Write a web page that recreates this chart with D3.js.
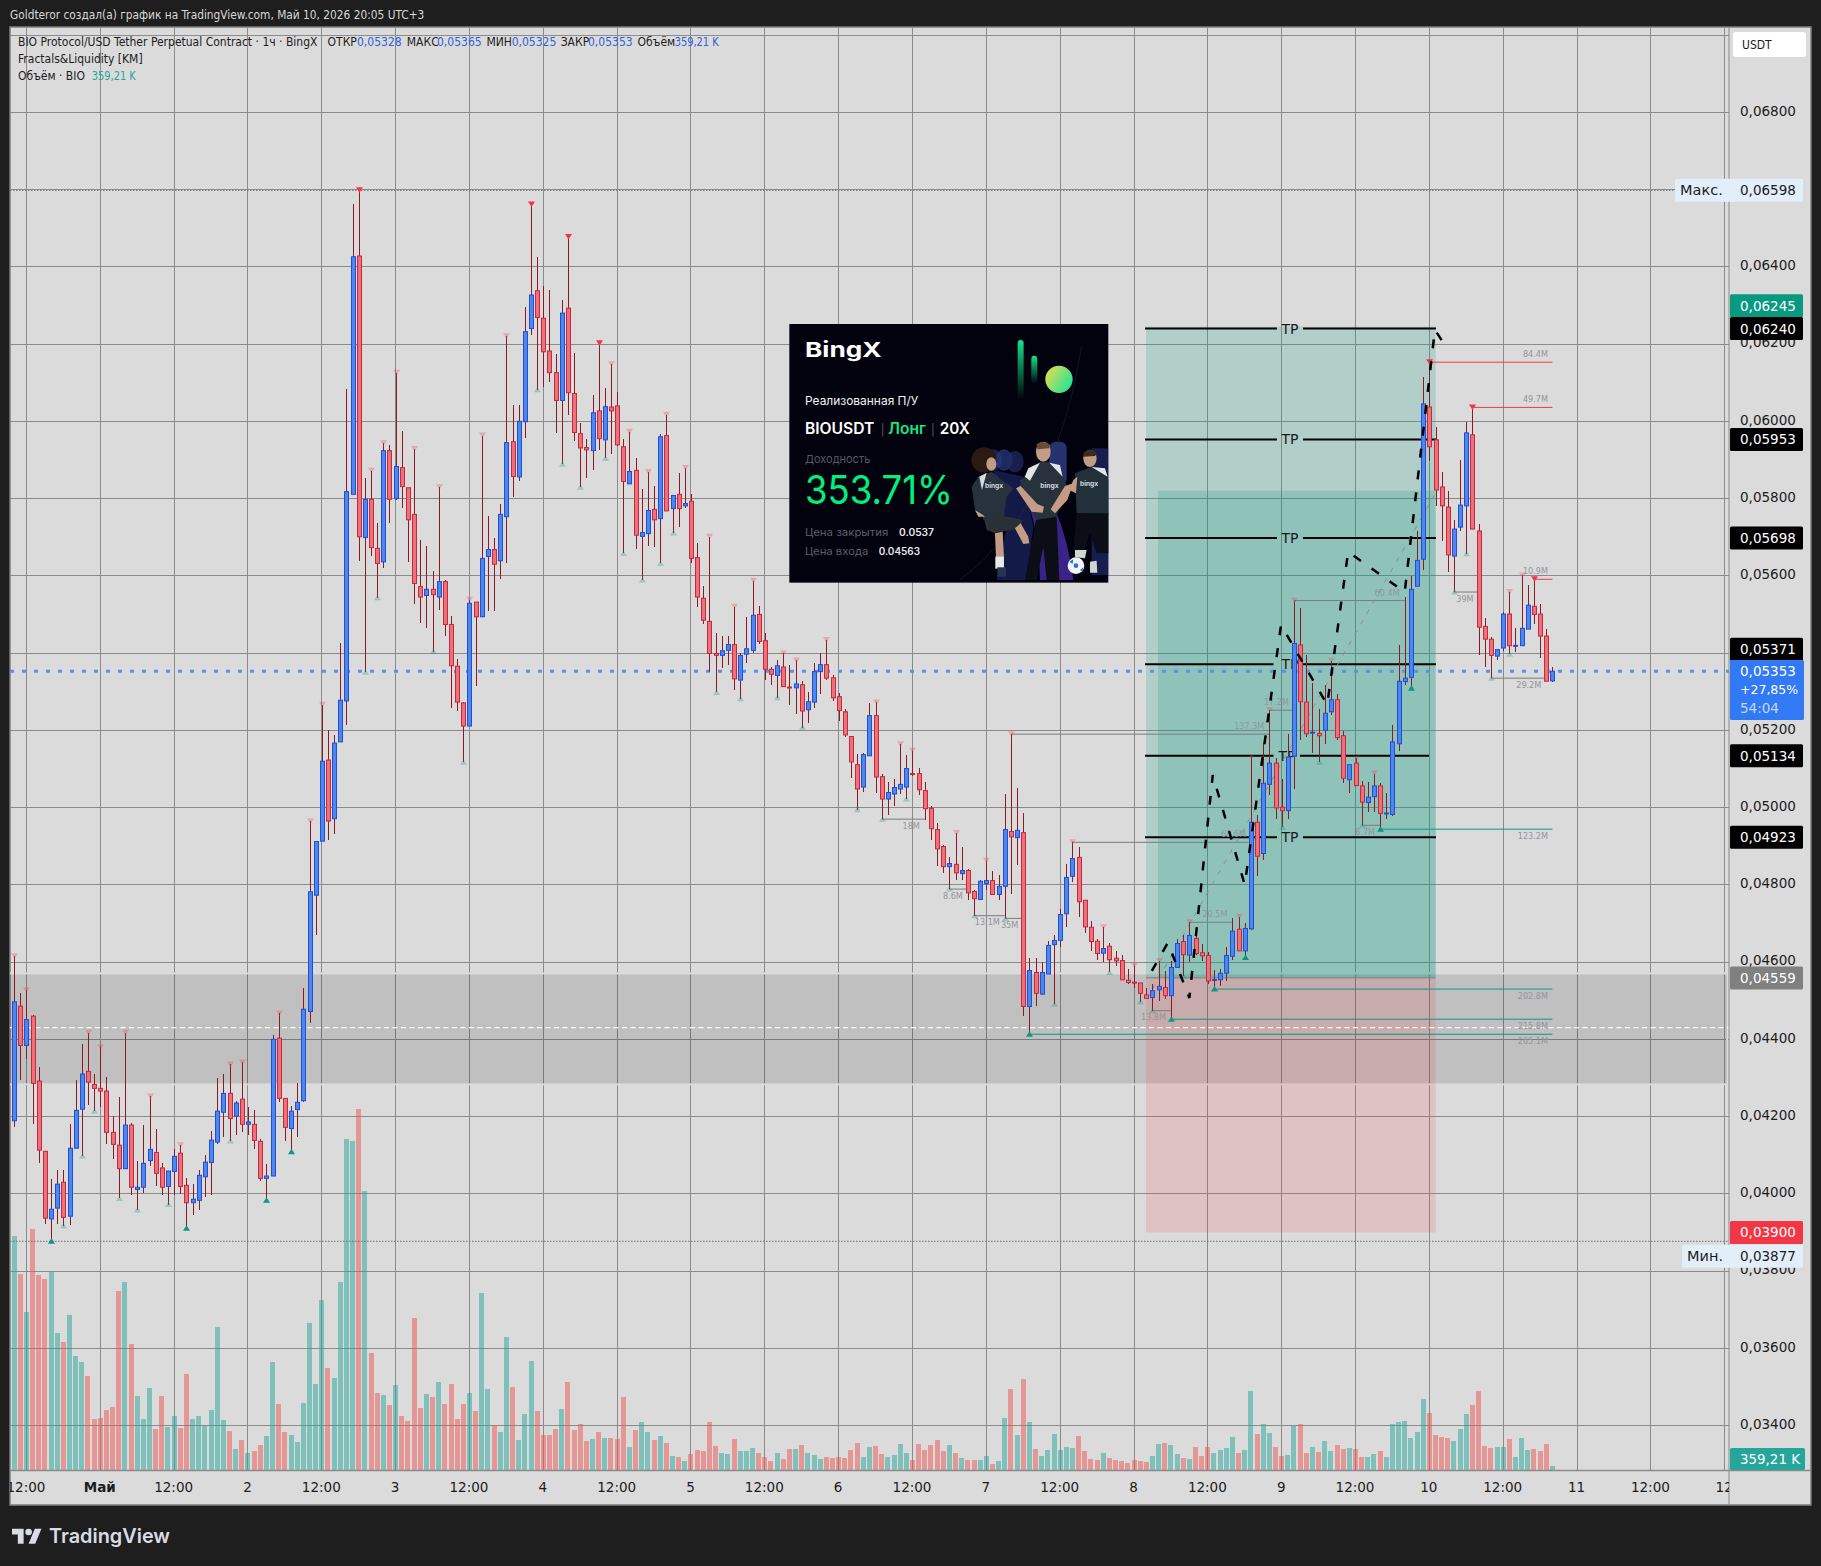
<!DOCTYPE html>
<html><head><meta charset="utf-8">
<script src="https://cdn.jsdelivr.net/npm/d3@7/dist/d3.min.js"></script>
<style>html,body{margin:0;padding:0;background:#1e1e1e}svg{display:block}</style></head>
<body><svg id="c" width="1821" height="1566"></svg>
<script>
// Prices are in units of 0.00001 USDT. Candle index 0 is 10:00 on 30 April; hourOffset counts hours from 1 May 00:00.
const PRICE_UNIT = 1e-5, FIRST_HOUR = -14;
const opens = [4189,4486,4384,4460,4292,4110,3935,3963,4030,3942,4118,4219,4317,4283,
4273,4266,4159,4126,4065,4178,4011,4017,4086,4107,4067,4019,4058,4105,4022,3977,3983,4044,4081,4134,4211,4260,4201,4245,4180,4180,4136,4040,4046,4403,4247,4169,4218,4241,4472,4773,4913,5123,4971,
5170,5276,5811,6428,5699,5798,5671,5636,5924,5800,5880,5828,5759,5572,5549,5565,5545,5585,5474,5366,5271,5211,5532,5494,5650,5668,5639,5753,5947,5856,5999,6240,6338,6267,6182,6126,6054,6293,6072,5968,5932,5924,6027,5952,6037,6040,5934,5838,5873,5702,5709,5772,5748,5963,5774,5811,5781,5793,5647,5542,5482,5399,5394,5407,5422,5330,5397,5407,5500,5432,5358,5342,5364,5312,5310,
5318,5253,5273,5352,5370,5336,5287,5248,5184,5111,5053,5134,5238,5080,5022,5035,5048,5053,5088,5088,5044,4998,4943,4899,4847,4853,4829,4837,4783,4762,4803,4811,4775,4796,4938,4922,4935,4485,4573,4517,4569,4645,4656,4725,4822,4871,4760,4690,4654,4623,4641,4610,4604,4553,4548,
4546,4515,4508,4528,4534,4513,4586,4653,4618,4661,4624,4617,4555,4554,4571,4615,4685,4629,4686,4962,4881,5060,5115,5001,4992,5133,5421,5273,5195,5192,5200,5248,5279,5186,5072,5115,5056,5013,5028,5056,4985,4982,5165,5326,5337,5573,5643,6037,5952,5830,5778,5651,5726,5781,5965,5716,5469,5436,5392,5413,5501,5420,5419,5462,5521,5501,5444,5328];
const highs = [4615,4521,4527,4462,4328,4112,4039,4061,4061,4181,4294,4388,4417,4310,
4379,4302,4201,4251,4417,4184,4085,4179,4252,4167,4080,4059,4115,4126,4040,4025,4061,4101,4163,4301,4311,4335,4239,4340,4225,4217,4142,4076,4412,4467,4247,4228,4288,4533,4964,4912,5266,5201,5188,
5426,6083,6563,6598,5853,5872,5736,5943,5938,6126,5976,5828,5928,5693,5676,5613,5829,5589,5495,5384,5273,5538,5532,5963,5754,5698,5785,6220,6041,6041,6296,6561,6426,6349,6339,6174,6314,6477,6178,5995,5953,6068,6202,6086,6148,6075,5955,5973,5904,5824,5869,5832,5968,6017,5808,5866,5879,5813,5686,5573,5701,5452,5444,5444,5520,5401,5493,5587,5521,5453,5365,5381,5399,5370,5381,
5328,5300,5373,5401,5434,5344,5297,5256,5184,5138,5141,5270,5272,5086,5065,5075,5164,5135,5147,5103,5065,5003,4960,4903,4871,4934,4897,4841,4787,4813,4862,4836,4825,5035,5190,5050,4987,4610,4610,4599,4655,4670,4737,4853,4910,4899,4760,4707,4660,4690,4649,4629,4618,4582,4590,
4546,4532,4543,4603,4577,4603,4660,4670,4703,4677,4647,4625,4579,4582,4640,4713,4717,4701,5131,4981,5165,5252,5127,5075,5191,5536,5517,5394,5322,5255,5316,5380,5294,5197,5111,5127,5068,5066,5088,5064,5038,5215,5421,5545,5599,5716,6115,6153,5985,5869,5820,5745,5899,5998,6036,5734,5491,5441,5409,5506,5558,5464,5601,5577,5591,5527,5463,5365];
const lows = [4172,4295,4349,4180,4079,3922,3877,3922,3917,3919,4118,4098,4230,4214,
4224,4128,4090,3988,4063,3998,3958,4003,4073,4020,3997,3972,3998,3999,3911,3944,3959,3991,3998,4128,4148,4137,4151,4159,4151,4115,4032,3983,4046,4238,4137,4109,4146,4238,4442,4669,4913,4916,4932,
5170,5214,5811,5639,5350,5651,5543,5619,5737,5795,5775,5636,5528,5478,5466,5404,5512,5443,5259,5249,5117,5211,5315,5494,5510,5510,5593,5634,5805,5846,5957,6223,6082,6090,6101,5969,5889,6016,5948,5829,5854,5874,5925,5904,5915,5935,5658,5838,5670,5589,5678,5674,5632,5768,5711,5727,5775,5634,5520,5476,5350,5298,5362,5370,5305,5282,5374,5399,5424,5330,5318,5284,5313,5266,5241,
5207,5220,5258,5293,5330,5276,5224,5183,5076,4994,5041,5134,5037,4970,4981,5004,5035,5022,5082,5032,4968,4916,4849,4830,4789,4812,4813,4761,4720,4762,4787,4774,4761,4713,4776,4851,4461,4413,4487,4515,4569,4491,4640,4691,4806,4716,4675,4629,4606,4601,4573,4589,4554,4543,4532,
4497,4506,4474,4500,4504,4452,4586,4564,4601,4618,4603,4543,4530,4538,4551,4606,4629,4612,4684,4822,4863,5033,4971,4949,4971,5049,5176,5182,5141,5117,5165,5240,5176,5063,5038,5057,4954,4988,4988,4944,4971,4978,5146,5316,5309,5573,5614,5896,5780,5689,5610,5558,5717,5657,5721,5394,5365,5335,5381,5406,5397,5402,5419,5462,5476,5388,5327,5325];
const closes = [4497,4384,4451,4286,4113,3937,3960,4025,3939,4118,4216,4310,4289,4273,
4266,4159,4128,4065,4178,4017,4017,4079,4115,4053,4017,4059,4097,4019,3977,3986,4048,4082,4139,4214,4260,4195,4235,4180,4186,4138,4040,4046,4400,4247,4172,4214,4237,4478,4782,4912,5120,4965,5167,
5278,5818,6426,5701,5798,5673,5632,5924,5798,5883,5831,5745,5580,5545,5565,5551,5585,5474,5367,5273,5211,5529,5494,5645,5668,5630,5759,5945,5857,6000,6232,6327,6269,6180,6126,6054,6280,6074,5971,5931,5926,6022,5955,6038,6027,5939,5844,5870,5705,5712,5769,5745,5960,5768,5808,5774,5787,5645,5545,5485,5399,5394,5406,5422,5333,5394,5411,5498,5430,5358,5345,5367,5313,5311,5320,
5250,5274,5352,5370,5335,5284,5251,5188,5118,5048,5137,5238,5079,5022,5039,5052,5060,5101,5087,5046,4997,4945,4893,4847,4855,4831,4837,4779,4764,4809,4811,4775,4796,4943,4924,4941,4485,4578,4519,4573,4643,4656,4723,4819,4868,4756,4691,4653,4622,4635,4606,4603,4554,4547,4547,
4519,4506,4526,4537,4513,4586,4648,4619,4669,4622,4616,4551,4555,4571,4617,4680,4629,4687,4962,4874,5063,5115,4999,4992,5131,5425,5274,5191,5195,5186,5244,5279,5181,5076,5111,5057,5014,5027,5056,4985,4986,5170,5327,5335,5565,5640,6045,5934,5822,5781,5654,5721,5783,5970,5721,5467,5436,5394,5409,5501,5419,5420,5464,5524,5500,5444,5327,5353];
// Volume in thousands of BIO.
const volumes = [21050,17610,14210,21660,17530,17190,17800,12340,11500,13940,10240,9700,8440,4580,4660,5390,5650,16080,16920,11350,6650,4580,7370,3710,6650,3900,4850,3780,8630,4580,4850,3970,5390,12870,4510,3510,1870,2710,1490,1720,2250,3060,9700,5920,3400,3130,2520,6040,13220,7720,15280,9170,8290,16920,29760,29610,32470,25100,10510,6910,6760,5840,7640,4850,4390,13680,5580,6840,6570,7910,5920,7720,4580,5920,6910,5310,15930,7300,4050,3400,11960,7450,2710,5040,9820,5310,3130,3130,3710,5500,7910,3590,4130,2600,2790,3400,
2880,2880,2790,6570,2070,3600,4320,3420,2700,3060,2430,1260,1170,810,1440,1800,1710,4320,2160,1530,1440,2790,1710,1710,1980,1530,1170,810,1530,990,1890,1890,2250,1530,1350,990,1170,1080,1170,1080,1800,2430,1170,2070,2160,1440,1170,1350,2340,1530,900,2340,1800,2250,2700,1710,2250,1530,1080,900,900,900,1260,540,810,4680,7290,3150,8190,4320,1890,1260,1800,3240,1800,2070,1980,3060,1710,990,900,1530,1080,900,810,630,900,810,720,1260,2340,2430,2250,1440,1080,990,2070,1260,2070,1530,1800,1980,2970,1530,1800,7110,3240,4140,3330,2070,1260,1350,3960,4140,1530,2070,1620,2610,1710,2250,1890,1980,1890,1170,1170,1440,1710,1170,4140,4320,4410,2880,3420,6390,5130,3150,2970,2880,2610,3690,5040,5850,7110,2160,1980,2070,2070,2790,1170,2880,1800,1890,1710,2340,359];

const priceTicks = [6800,6600,6400,6200,6000,5800,5600,5400,5200,5000,4800,4600,4400,4200,4000,3800,3600,3400];
const timeTickHours = [-12,0,12,24,36,48,60,72,84,96,108,120,132,144,156,168,180,192,204,216,228,240,252,264];
const timeTickLabels = ["12:00","Май","12:00","2","12:00","3","12:00","4","12:00","5","12:00","6","12:00","7","12:00","8","12:00","9","12:00","10","12:00","11","12:00","12"];
const gridPrices = [7000,6800,6600,6400,6200,6000,5800,5600,5400,5200,5000,4800,4600,4400,4200,4000,3800,3600,3400];

const fractalTopsStrong = [42,70,76,81,216,223,233];
const fractalTopsFaded = [-14,-12,-2,0,4,8,13,21,23,29,34,36,44,46,48,51,55,60,62,66,83,86,89,92,95,99,103,106,111,113,118,126,130,132,139,144,148,158,163,168,172,177,185,187,190,194,200,204,207,229,231];
const fractalLowsStrong = [-8,14,27,31,151,174,181,186,208,213];
const fractalLowsFaded = [-6,-3,-1,3,6,11,21,43,45,54,59,71,75,78,82,85,88,91,93,100,104,110,114,123,127,131,138,142,147,155,164,169,171,176,192,198,205,220,222,226,229];

const sweepStarts = [127,138,142,147,148,158,177,171,190,194,205,220,226];
const sweepEnds   = [134,141,147,150,190,187,184,174,194,212,208,224,235];
const sweepSides  = ["l","l","l","l","h","h","h","l","h","h","l","l","l"];
const sweepLabels = ["18M","8.6M","13.1M","35M","137.3M","68.6M","20.5M","13.8M","17.2M","60.4M","8.7M","39M","29.2M"];
const openHighStarts = [216,223,233], openHighLabels = ["84.4M","49.7M","10.9M"];
const openLowStarts = [208,181,174,151], openLowLabels = ["123.2M","202.8M","215.8M","265.1M"];
const FUTURE_END = 236;

const tpPrices = [6240,5953,5698,5371,5134,4923];
const zonePrices = [4568,4286];
const whiteDashPrice = 4430;
const maxPrice = 6598, minPrice = 3877, lastPrice = 5353, entryPrice = 4559, stopPrice = 3900, targetPrice = 6245, innerTopPrice = 5820;

const pathHours  = [170.9,173.5,177,180.8,186,191.9,199.4,202.8,212,216.9,218.2];
const pathPrices = [4577,4650,4507,5084,4800,5473,5266,5662,5558,6237,6205];
const trendHours = [171,217], trendPrices = [4530,5814];

const axisTagLabels = ["0,06245","0,06240","0,05953","0,05698","0,05371","0,05134","0,04923","0,04559","0,03900"];
const axisTagPrices = [6245,6240,5953,5698,5371,5134,4923,4559,3900];

const PLOT = {l:10,t:27,r:1729,b:1470,frameB:1505,frameR:1811};
const x = d3.scaleLinear().domain([0,236]).range([100.3,100.3+236*6.153]);
const y = d3.scaleLinear().domain([6800,3400]).range([112.3,112.3+17*77.25]);
const yVol = d3.scaleLinear().domain([0,32490]).range([1470,1109]);
const fmt = v => (v*PRICE_UNIT).toFixed(5).replace(".",",");
const AX = '"DejaVu Sans",sans-serif', COND = '"DejaVu Sans Condensed","DejaVu Sans",sans-serif', CARD='Inter,Roboto,sans-serif';
const svg = d3.select("#c");
const defs = svg.append("defs");
defs.append("clipPath").attr("id","plot").append("rect").attr("x",PLOT.l).attr("y",PLOT.t).attr("width",PLOT.r-PLOT.l).attr("height",PLOT.b-PLOT.t);
defs.append("clipPath").attr("id","tax").append("rect").attr("x",PLOT.l).attr("y",PLOT.b).attr("width",PLOT.r-PLOT.l).attr("height",PLOT.frameB-PLOT.b);

svg.append("rect").attr("width",1821).attr("height",1566).attr("fill","#1e1e1e");
svg.append("rect").attr("x",PLOT.l).attr("y",PLOT.t).attr("width",PLOT.frameR-PLOT.l).attr("height",PLOT.frameB-PLOT.t).attr("fill","#dbdbdb").attr("stroke","#7d7d7d").attr("stroke-width",1.5);
svg.append("text").attr("x",10).attr("y",19).attr("fill","#d8d8d8").attr("font-family",COND).attr("font-size",11.8).text("Goldteror создал(а) график на TradingView.com, Май 10, 2026 20:05 UTC+3");

const plot = svg.append("g").attr("clip-path","url(#plot)");
const grid = plot.append("g").attr("stroke","#8b8b8b").attr("stroke-width",1).attr("shape-rendering","crispEdges");
grid.selectAll(".h").data(gridPrices).join("line").attr("x1",PLOT.l).attr("x2",PLOT.r).attr("y1",d=>y(d)).attr("y2",d=>y(d));
grid.selectAll(".v").data(timeTickHours).join("line").attr("y1",PLOT.t).attr("y2",PLOT.b).attr("x1",d=>x(d)).attr("x2",d=>x(d));

// demand zone
plot.append("rect").attr("x",PLOT.l-3).attr("width",PLOT.r-PLOT.l+1).attr("y",y(zonePrices[0])-1).attr("height",y(zonePrices[1])-y(zonePrices[0])+2)
 .attr("fill","none").attr("stroke","#dcdcdc").attr("stroke-width",2);
plot.append("rect").attr("x",PLOT.l-3).attr("width",PLOT.r-PLOT.l+1).attr("y",y(zonePrices[0])).attr("height",y(zonePrices[1])-y(zonePrices[0])).attr("fill","rgba(0,0,0,.12)");

// long position tool
const px0=1146, px1=1435.7, pxInner=1158;
plot.append("rect").attr("x",px0).attr("width",px1-px0).attr("y",y(targetPrice)).attr("height",y(entryPrice)-y(targetPrice)).attr("fill","rgba(8,153,129,.2)");
plot.append("rect").attr("x",pxInner).attr("width",px1-pxInner).attr("y",y(innerTopPrice)).attr("height",y(entryPrice)-y(innerTopPrice)).attr("fill","rgba(8,153,129,.2)");
plot.append("rect").attr("x",px0).attr("width",px1-px0).attr("y",y(entryPrice)).attr("height",y(stopPrice)-y(entryPrice)).attr("fill","rgba(242,54,69,.15)");
plot.append("line").attr("x1",px0).attr("x2",px1).attr("y1",y(entryPrice)).attr("y2",y(entryPrice)).attr("stroke","#7f7f7f").attr("stroke-width",1);

// TP lines
const tp = plot.append("g");
tpPrices.forEach((p,i)=>{
  const short = i===4, mid = i===3;
  const gapL = mid||short?1273.5:1277, gapR = short?1300:1303, end = short?1429:1436, cx = short?1287:1290;
  tp.append("line").attr("x1",1145).attr("x2",gapL).attr("y1",y(p)).attr("y2",y(p)).attr("stroke","#000").attr("stroke-width",2);
  tp.append("line").attr("x1",gapR).attr("x2",end).attr("y1",y(p)).attr("y2",y(p)).attr("stroke","#000").attr("stroke-width",2);
  tp.append("text").attr("x",cx).attr("y",y(p)+5).attr("text-anchor","middle").attr("font-family",AX).attr("font-size",14).attr("fill","#1a1a1a").text("TP");
});

// volume
const idx = d3.range(opens.length);
const H = i => i+FIRST_HOUR;
plot.append("g").selectAll("rect").data(idx).join("rect")
 .attr("x",i=>x(H(i))-2.5).attr("width",5).attr("y",i=>yVol(volumes[i])).attr("height",i=>yVol(0)-yVol(volumes[i]))
 .attr("fill",i=>closes[i]>=opens[i]?"rgba(38,166,154,.5)":"rgba(239,83,80,.5)").attr("shape-rendering","crispEdges");

// dotted reference lines
plot.append("line").attr("x1",PLOT.l).attr("x2",PLOT.r).attr("y1",y(maxPrice)).attr("y2",y(maxPrice)).attr("stroke","#6f6f6f").attr("stroke-dasharray","1.5,1.5");
plot.append("line").attr("x1",PLOT.l).attr("x2",PLOT.r).attr("y1",y(minPrice)).attr("y2",y(minPrice)).attr("stroke","#6f6f6f").attr("stroke-dasharray","1.5,1.5");
plot.append("line").attr("x1",PLOT.l).attr("x2",PLOT.r).attr("y1",y(whiteDashPrice)).attr("y2",y(whiteDashPrice)).attr("stroke","#fff").attr("stroke-width",1.2).attr("stroke-dasharray","5,3.5");

// sweep lines
const level = (h,side)=>{const i=h-FIRST_HOUR;return side==="h"?highs[i]:lows[i]};
const sw = plot.append("g");
const labelStyle = s=>s.attr("font-family",COND).attr("font-size",9).attr("fill","#93959b");
sweepStarts.forEach((h,i)=>{
  const yy=y(level(h,sweepSides[i]));
  sw.append("line").attr("x1",x(h)).attr("x2",x(sweepEnds[i])).attr("y1",yy).attr("y2",yy).attr("stroke","#7c7c7c");
  labelStyle(sw.append("text")).attr("x",x(sweepEnds[i])-5).attr("y",sweepSides[i]==="h"?yy-5:yy+9.5).attr("text-anchor","end").text(sweepLabels[i]);
});
openHighStarts.forEach((h,i)=>{
  const yy=y(level(h,"h"));
  sw.append("line").attr("x1",x(h)).attr("x2",x(FUTURE_END)).attr("y1",yy).attr("y2",yy).attr("stroke","#f23645");
  labelStyle(sw.append("text")).attr("x",x(FUTURE_END)-4.5).attr("y",yy-5.5).attr("text-anchor","end").text(openHighLabels[i]);
});
openLowStarts.forEach((h,i)=>{
  const yy=y(level(h,"l"));
  sw.append("line").attr("x1",x(h)).attr("x2",x(FUTURE_END)).attr("y1",yy).attr("y2",yy).attr("stroke","#089981");
  labelStyle(sw.append("text")).attr("x",x(FUTURE_END)-4.5).attr("y",yy+9.5).attr("text-anchor","end").text(openLowLabels[i]);
});

// thin trend
const ln = d3.line();
plot.append("path").attr("d",ln(trendHours.map((h,i)=>[x(h),y(trendPrices[i])]))).attr("fill","none").attr("stroke","#8e8e8e").attr("stroke-dasharray","5,7");

// last price dots
plot.append("line").attr("x1",PLOT.l).attr("x2",PLOT.r).attr("y1",y(lastPrice)).attr("y2",y(lastPrice)).attr("stroke","#5b8ff2").attr("stroke-width",3).attr("stroke-dasharray","4,8");

// candles
const candle = plot.append("g");
candle.selectAll("line").data(idx).join("line").attr("x1",i=>Math.round(x(H(i)))+.5).attr("x2",i=>Math.round(x(H(i)))+.5)
 .attr("y1",i=>y(highs[i])).attr("y2",i=>y(lows[i])).attr("stroke","#8b1a24").attr("stroke-width",1).attr("shape-rendering","crispEdges");
candle.selectAll("rect").data(idx).join("rect").attr("x",i=>Math.round(x(H(i)))-1.5).attr("width",4)
 .attr("y",i=>y(Math.max(opens[i],closes[i]))).attr("height",i=>Math.max(1,Math.abs(y(opens[i])-y(closes[i]))))
 .attr("fill",i=>closes[i]>=opens[i]?"#5086ea":"#ef6f7b").attr("stroke",i=>closes[i]>=opens[i]?"#1c4fdb":"#c42a3a").attr("stroke-width",1);

// fractals
const tri = (h,top)=>{const i=h-FIRST_HOUR,cx=Math.round(x(h))+.5,yy=y(top?highs[i]:lows[i]);
  return top?`M${cx-3.5},${yy-3}L${cx+3.5},${yy-3}L${cx},${yy+2.5}Z`:`M${cx-3.5},${yy+2.5}L${cx+3.5},${yy+2.5}L${cx},${yy-3}Z`;};
const fr = plot.append("g");
fr.selectAll(".a").data(fractalTopsFaded).join("path").attr("d",d=>tri(d,true)).attr("fill","rgba(242,54,69,.3)");
fr.selectAll(".b").data(fractalLowsFaded).join("path").attr("d",d=>tri(d,false)).attr("fill","rgba(8,153,129,.3)");
fr.selectAll(".c").data(fractalTopsStrong).join("path").attr("d",d=>tri(d,true)).attr("fill","#f23645");
fr.selectAll(".d").data(fractalLowsStrong).join("path").attr("d",d=>tri(d,false)).attr("fill","#089981");

// hand-drawn path
plot.append("path").attr("d",ln(pathHours.map((h,i)=>[x(h),y(pathPrices[i])]))).attr("fill","none").attr("stroke","#000").attr("stroke-width",2.5).attr("stroke-dasharray","9,13");

// BingX card
const card = svg.append("g").attr("transform","translate(780,320) scale(0.3333)");
const gr1=defs.append("linearGradient").attr("id","g1").attr("x1",0).attr("x2",0).attr("y1",0).attr("y2",1);
gr1.append("stop").attr("offset",0).attr("stop-color","#18e38a");gr1.append("stop").attr("offset",1).attr("stop-color","#18e38a").attr("stop-opacity",0);
const gr2=defs.append("linearGradient").attr("id","g2").attr("x1",0).attr("x2",1).attr("y1",.2).attr("y2",.8);
gr2.append("stop").attr("offset",0).attr("stop-color","#e6dc50");gr2.append("stop").attr("offset",1).attr("stop-color","#14e69a");
card.append("rect").attr("x",28).attr("y",12).attr("width",957).attr("height",776).attr("fill","#01020e");
card.append("path").attr("d","M540,780Q830,560 905,80").attr("fill","none").attr("stroke","#1b1f2c").attr("stroke-width",2);
card.append("rect").attr("x",713).attr("y",60).attr("width",18).attr("height",178).attr("rx",9).attr("fill","url(#g1)");
card.append("rect").attr("x",754).attr("y",107).attr("width",18).attr("height",85).attr("rx",9).attr("fill","url(#g1)");
card.append("circle").attr("cx",837).attr("cy",178).attr("r",41).attr("fill","url(#g2)");
const cardText=(tx,ty,s,size,fill,w)=>card.append("text").attr("x",tx).attr("y",ty).attr("font-family",CARD).attr("font-size",size).attr("fill",fill).attr("font-weight",w||400).text(s);
cardText(75,112,"BingX",62,"#ffffff",700).attr("textLength",230).attr("lengthAdjust","spacingAndGlyphs");
cardText(75,254,"Реализованная П/У",35,"#f2f2f2").attr("textLength",340).attr("lengthAdjust","spacingAndGlyphs");
cardText(75,342,"BIOUSDT",46,"#ffffff",600).attr("textLength",208).attr("lengthAdjust","spacingAndGlyphs");
cardText(302,342,"|",34,"#555a66");
cardText(325,342,"Лонг",46,"#10e888",600).attr("textLength",113).attr("lengthAdjust","spacingAndGlyphs");
cardText(453,342,"|",34,"#555a66");
cardText(479,342,"20X",46,"#ffffff",600).attr("textLength",90).attr("lengthAdjust","spacingAndGlyphs");
cardText(75,428,"Доходность",33,"#555862").attr("textLength",196).attr("lengthAdjust","spacingAndGlyphs");
cardText(75,553,"353.71%",118,"#00f080",400).attr("textLength",444).attr("lengthAdjust","spacingAndGlyphs");
cardText(75,647,"Цена закрытия",32,"#5a5d68").attr("textLength",250).attr("lengthAdjust","spacingAndGlyphs");
cardText(357,647,"0.0537",30,"#e8e8e8",600).attr("textLength",105).attr("lengthAdjust","spacingAndGlyphs");
cardText(75,706,"Цена входа",32,"#5a5d68").attr("textLength",190).attr("lengthAdjust","spacingAndGlyphs");
cardText(296,706,"0.04563",30,"#e8e8e8",600).attr("textLength",124).attr("lengthAdjust","spacingAndGlyphs");
// players
const pl = card.append("g");
[[640,420,"#23306e"],[672,420,"#2b3a85"],[705,425,"#222c66"]].forEach(([gx,gy,c])=>pl.append("ellipse").attr("cx",gx).attr("cy",gy).attr("rx",26).attr("ry",32).attr("fill",c).attr("opacity",.7));
pl.append("path").attr("d","M640,450L730,470L760,620L740,780L650,780L680,620Z").attr("fill","#232f78").attr("opacity",.55);
pl.append("path").attr("d","M760,470Q850,560 880,780L780,780Q780,620 720,480Z").attr("fill","#4a2ba6").attr("opacity",.8);
pl.append("rect").attr("x",808).attr("y",365).attr("width",52).attr("height",130).attr("rx",20).attr("fill","#2e3f8a").attr("opacity",.8);
pl.append("rect").attr("x",935).attr("y",385).attr("width",50).attr("height",380).attr("fill","#26307a").attr("opacity",.6);
const jersey="#27323d", black="#0b0e16", skin="#c49c85";
// left player
pl.append("circle").attr("cx",612).attr("cy",420).attr("r",38).attr("fill","#2a1a12");
pl.append("ellipse").attr("cx",634).attr("cy",432).attr("rx",15).attr("ry",20).attr("fill",skin);
pl.append("path").attr("d","M592,470L635,455L665,480L700,505L680,530L672,590L610,600L595,545Z").attr("fill",jersey);
pl.append("path").attr("d","M598,470L620,458L606,510Z").attr("fill","#d8dadd");
pl.append("path").attr("d","M592,475L575,500L585,570L605,585L600,520Z").attr("fill",jersey);
pl.append("path").attr("d","M585,570L605,582L615,590L595,590Z").attr("fill",skin);
pl.append("path").attr("d","M612,596L672,588L728,600L722,625L665,635L645,640L620,630Z").attr("fill","#2a3036");
pl.append("path").attr("d","M645,640L668,635L672,712L648,712Z").attr("fill",skin);
pl.append("rect").attr("x",646).attr("y",710).attr("width",26).attr("height",36).attr("fill","#e9e9e9");
pl.append("rect").attr("x",652).attr("y",742).attr("width",26).attr("height",28).attr("fill","#26354d");
pl.append("path").attr("d","M722,610L745,650L748,670L730,672L705,625Z").attr("fill",skin);
pl.append("text").attr("x",615).attr("y",503).attr("font-family",CARD).attr("font-size",20).attr("font-weight",700).attr("fill","#d7dade").text("bingx");
// mid player
pl.append("ellipse").attr("cx",790).attr("cy",395).attr("rx",22).attr("ry",30).attr("fill",skin);
pl.append("path").attr("d","M770,372Q790,358 812,375L808,385L772,388Z").attr("fill","#6a4a34");
pl.append("path").attr("d","M745,445L782,425L800,425L840,435L860,500L825,600L770,600L742,520L715,505Z").attr("fill",jersey);
pl.append("path").attr("d","M745,445L780,428L750,482L735,470Z M808,428L840,435L848,470Z").attr("fill","#e2e4e6");
pl.append("path").attr("d","M768,600L830,590L838,780L800,780L790,680L770,780L735,780Z").attr("fill",black);
pl.append("path").attr("d","M708,505L722,498L772,552L792,560L788,578L755,575Z M855,498L880,490L862,540L825,580L812,568Z").attr("fill",skin);
pl.append("text").attr("x",781).attr("y",504).attr("font-family",CARD).attr("font-size",20).attr("font-weight",700).attr("fill","#d7dade").text("bingx");
// right player
pl.append("ellipse").attr("cx",930).attr("cy",415).attr("rx",20).attr("ry",26).attr("fill",skin);
pl.append("path").attr("d","M910,400Q930,378 950,402L945,408L912,410Z").attr("fill","#3b2a20");
pl.append("path").attr("d","M885,460L935,440L975,445L985,480L985,585L890,580Z").attr("fill","#22303c");
pl.append("path").attr("d","M935,441L975,445L983,470Z").attr("fill","#e2e4e6");
pl.append("path").attr("d","M890,580L985,580L985,700L950,700L930,640L910,695L880,690Z").attr("fill",black);
pl.append("path").attr("d","M880,480L892,470L888,520L868,510Z").attr("fill",skin);
pl.append("path").attr("d","M885,690L920,690L915,715L885,712Z").attr("fill","#cfd6d6");
pl.append("path").attr("d","M930,725L950,722L952,758L930,758Z").attr("fill","#cfd6d6");
pl.append("text").attr("x",900).attr("y",498).attr("font-family",CARD).attr("font-size",20).attr("font-weight",700).attr("fill","#d7dade").text("bingx");
pl.append("circle").attr("cx",888).attr("cy",737).attr("r",25).attr("fill","#f2f4f8");
pl.append("circle").attr("cx",888).attr("cy",737).attr("r",7).attr("fill","#2a74d8");
pl.append("path").attr("d","M868,725L880,718L878,732Z M900,750L910,742L908,756Z").attr("fill","#2a74d8");

// axes
svg.append("line").attr("x1",PLOT.r).attr("x2",PLOT.r).attr("y1",PLOT.t).attr("y2",PLOT.frameB).attr("stroke","#8a8a8a").attr("stroke-width",1);
svg.append("line").attr("x1",PLOT.l).attr("x2",PLOT.frameR).attr("y1",PLOT.b+.5).attr("y2",PLOT.b+.5).attr("stroke","#8a8a8a").attr("stroke-width",1.5);

const yAxis = d3.axisRight(y).tickValues(priceTicks).tickFormat(fmt).tickSize(0).tickPadding(11);
const gy = svg.append("g").attr("transform",`translate(${PLOT.r},-1.5)`).call(yAxis);
gy.select(".domain").remove();
gy.selectAll("text").attr("font-family",AX).attr("font-size",13.5).attr("fill","#1c1c1c");

const labelFor = h => timeTickLabels[timeTickHours.indexOf(h)];
const xAxis = d3.axisBottom(x).tickValues(timeTickHours).tickFormat(labelFor).tickSize(0).tickPadding(12);
const gx = svg.append("g").attr("clip-path","url(#tax)").append("g").attr("transform",`translate(-1,${PLOT.b})`).call(xAxis);
gx.select(".domain").remove();
gx.selectAll("text").attr("font-family",AX).attr("font-size",13.5).attr("fill","#1c1c1c").attr("font-weight",d=>d===0?700:400);

// axis tags
const tagFill = ["#089981","#000","#000","#000","#000","#000","#000","#808080","#f23645"];
const tagShift = [-21,0,0,0,-15,0,0,0,0];
const tags = svg.append("g");
const tagText = (tx,ty,s,fill,w,anc,size)=>tags.append("text").attr("x",tx).attr("y",ty).attr("font-family",AX).attr("font-size",size||13.5).attr("fill",fill).attr("font-weight",w||400).attr("dominant-baseline","central").attr("text-anchor",anc||"start").text(s);
axisTagLabels.forEach((s,i)=>{
  const cy=y(axisTagPrices[i])+tagShift[i];
  tags.append("rect").attr("x",1730).attr("y",cy-11.5).attr("width",73).attr("height",23).attr("rx",1.5).attr("fill",tagFill[i]);
  tagText(1740,cy,s,"#fff",500);
});
// Max / min tags
[[maxPrice,"Макс.",1675,1680],[minPrice,"Мин.",1682,1687]].forEach(([p,lab,bx,tx],k)=>{
  const cy = k===0?y(p):y(p)+15;
  tags.append("rect").attr("x",bx).attr("y",cy-11.5).attr("width",1803-bx).attr("height",23).attr("rx",1.5).attr("fill","#e3eefb");
  tagText(tx,cy,lab,"#1c1c1c",400,"start",14.5);
  tagText(1740,cy,fmt(p),"#1c1c1c");
});
// last price tag
tags.append("rect").attr("x",1730).attr("y",660).attr("width",74).attr("height",60).attr("rx",1.5).attr("fill","#3179f5");
tagText(1740,670.5,fmt(lastPrice),"#fff",500);
tagText(1740,689.5,"+27,85%","#fff",500,"start",12.5);
tagText(1740,707.5,"54:04","#c4d8fb",400);
// volume tag
tags.append("rect").attr("x",1730).attr("y",1448).attr("width",75).attr("height",22).attr("rx",1.5).attr("fill","#26a69a");
tagText(1740,1459,"359,21 K","#fff",500).attr("textLength",60).attr("lengthAdjust","spacingAndGlyphs");
// USDT box
tags.append("rect").attr("x",1733).attr("y",32).attr("width",73).attr("height",25).attr("rx",3).attr("fill","#fff");
tags.append("text").attr("x",1742).attr("y",49).attr("font-family",COND).attr("font-size",12).attr("fill","#1c1c1c").text("USDT");

// legend
const leg = svg.append("g").attr("font-family",COND).attr("font-size",12);
const legT=(tx,ty,s,fill)=>leg.append("text").attr("x",tx).attr("y",ty).attr("fill",fill||"#1c1c1c").text(s);
legT(18,46,"BIO Protocol/USD Tether Perpetual Contract · 1ч · BingX");
legT(327.6,46,"ОТКР");legT(357,46,"0,05328","#2f62d8");
legT(406.8,46,"МАКС");legT(437,46,"0,05365","#2f62d8");
legT(486.4,46,"МИН");legT(511.7,46,"0,05325","#2f62d8");
legT(560.7,46,"ЗАКР");legT(588,46,"0,05353","#2f62d8");
legT(637.6,46,"Объём");legT(674.7,46,"359,21 K","#2f62d8").attr("textLength",44).attr("lengthAdjust","spacingAndGlyphs");
legT(18,63,"Fractals&Liquidity [KM]");
legT(18,80,"Объём · BIO");legT(91.8,80,"359,21 K","#26a69a").attr("textLength",44).attr("lengthAdjust","spacingAndGlyphs");

// footer logo
const logo = svg.append("g").attr("transform","translate(12,1525.4) scale(.83)").attr("fill","#d9dce3");
logo.append("path").attr("d","M14 22H7V11H0V4h14v18zM28 22h-8l7.5-18h8L28 22z");
logo.append("circle").attr("cx",20).attr("cy",8).attr("r",4);
svg.append("text").attr("x",49).attr("y",1543).attr("font-family","Inter,'Open Sans',sans-serif").attr("font-weight",600).attr("font-size",20).attr("fill","#d9dce3").attr("textLength",121).attr("lengthAdjust","spacingAndGlyphs").text("TradingView");
</script></body></html>
